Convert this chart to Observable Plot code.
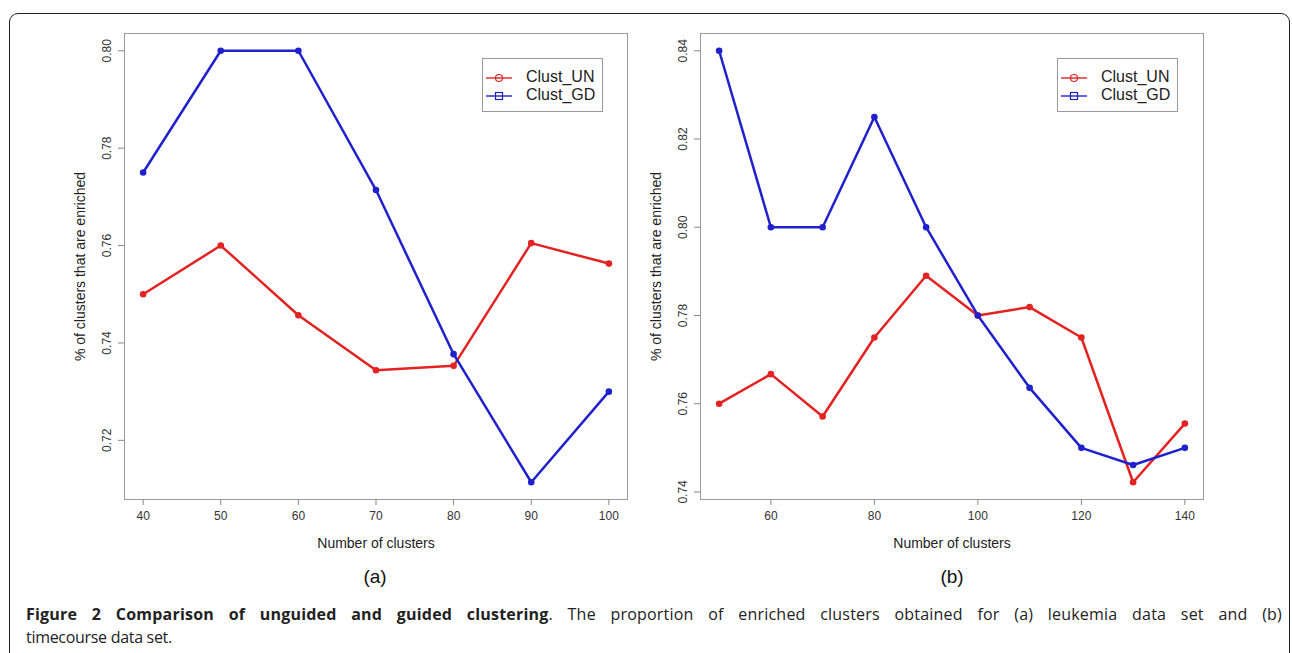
<!DOCTYPE html>
<html>
<head>
<meta charset="utf-8">
<script src="https://cdn.jsdelivr.net/npm/d3@7"></script>
<script src="https://cdn.jsdelivr.net/npm/@observablehq/plot@0.6"></script>
<style>
  html, body { margin: 0; padding: 0; background: #fff; }
  #wrap { position: relative; width: 1292px; height: 653px; overflow: hidden; background: #fff; font-family: "Liberation Sans", Arial, sans-serif; }
  #border { position: absolute; left: 9px; top: 13px; width: 1281px; height: 700px; border: 1.3px solid #222; border-radius: 9px; box-sizing: border-box; }
  .panel { position: absolute; top: 0; }
  .legend { position: absolute; border: 1px solid #999; background: #fff; box-sizing: border-box; }
  .legend .row { position: absolute; left: 0; height: 18px; }
  .legend svg { position: absolute; left: 3px; top: 0; }
  .legend span { position: absolute; left: 43px; top: -1px; font-size: 16px; color: #222; white-space: nowrap; line-height: 18px; }
  .sub { position: absolute; font-size: 19px; color: #111; transform: translateX(-50%); }
  #caption { position: absolute; left: 26px; top: 603px; width: 1256px; font-family: "Open Sans", "Noto Sans", sans-serif; font-size: 16px; color: #222; line-height: 23px; }
  #caption .l1 { text-align: justify; text-align-last: justify; letter-spacing: 0.2px; }
  #caption .l2 { letter-spacing: -0.3px; }
</style>
</head>
<body>
<div id="wrap">
  <div id="border"></div>
  <div id="left" class="panel" style="left:0px"></div>
  <div id="right" class="panel" style="left:640px"></div>
  <div class="sub" style="left:375px; top:566px;">(a)</div>
  <div class="sub" style="left:952px; top:566px;">(b)</div>
  <div id="caption">
    <div class="l1"><b>Figure 2 Comparison of unguided and guided clustering</b>. The proportion of enriched clusters obtained for (a) leukemia data set and (b)</div>
    <div class="l2">timecourse data set.</div>
  </div>
</div>
<script>
// ---- data ----
const seriesNames = ["Clust_UN", "Clust_GD"];
const seriesColors = ["#e32222", "#2020cc"];

const clustersA = [40, 50, 60, 70, 80, 90, 100];
const unA = [0.750, 0.760, 0.7457, 0.7344, 0.7353, 0.7605, 0.7563];
const gdA = [0.775, 0.800, 0.800, 0.7714, 0.7377, 0.7114, 0.730];
const xTicksA = [40, 50, 60, 70, 80, 90, 100];
const yTicksA = [0.72, 0.74, 0.76, 0.78, 0.80];

const clustersB = [50, 60, 70, 80, 90, 100, 110, 120, 130, 140];
const unB = [0.760, 0.7667, 0.7571, 0.775, 0.789, 0.780, 0.7819, 0.775, 0.7422, 0.7555];
const gdB = [0.840, 0.800, 0.800, 0.825, 0.800, 0.780, 0.7636, 0.750, 0.7461, 0.750];
const xTicksB = [60, 80, 100, 120, 140];
const yTicksB = [0.74, 0.76, 0.78, 0.80, 0.82, 0.84];

const xLabel = "Number of clusters";
const yLabel = "% of clusters that are enriched";

// R-style 4% padded domain
function pad(vals) {
  const [lo, hi] = d3.extent(vals);
  const p = (hi - lo) * 0.04;
  return [lo - p, hi + p];
}

function panel(xs, un, gd, xTicks, yTicks, ml, mr, width) {
  const rows = [];
  xs.forEach((x, i) => rows.push({s: 0, x, y: un[i]}));
  xs.forEach((x, i) => rows.push({s: 1, x, y: gd[i]}));
  const fmt = d3.format(".2f");
  return Plot.plot({
    width, height: 560,
    marginLeft: ml, marginRight: mr, marginTop: 33, marginBottom: 61,
    x: {domain: pad(xs), label: null},
    y: {domain: pad(un.concat(gd)), label: null},
    style: {fontFamily: "Liberation Sans, Arial, sans-serif", fontSize: "12px", background: "transparent", overflow: "visible"},
    marks: [
      Plot.frame({stroke: "#9a9a9a", strokeWidth: 1}),
      Plot.axisX({ticks: xTicks, tickSize: 6, tickPadding: 6, stroke: "#888", fill: "#333", fontSize: 12, tickFormat: d => String(d), label: null}),
      Plot.axisY({ticks: yTicks, tickSize: 6, stroke: "#888", tickFormat: () => "", label: null}),
      Plot.text(yTicks, {y: d => d, text: d => fmt(d), frameAnchor: "left", textAnchor: "middle", lineAnchor: "middle", rotate: -90, dx: -17, fill: "#333", fontSize: 12}),
      Plot.text([xLabel], {frameAnchor: "bottom", textAnchor: "middle", lineAnchor: "middle", dy: 44, fontSize: 14, fill: "#222"}),
      Plot.text([yLabel], {frameAnchor: "left", textAnchor: "middle", lineAnchor: "middle", rotate: -90, dx: -44, fontSize: 14, fill: "#222"}),
      Plot.line(rows, {x: "x", y: "y", z: "s", stroke: d => seriesColors[d.s], strokeWidth: 2.5}),
      Plot.dot(rows, {x: "x", y: "y", r: 3.3, fill: d => seriesColors[d.s], stroke: "none"})
    ]
  });
}

document.getElementById("left").appendChild(panel(clustersA, unA, gdA, xTicksA, yTicksA, 124, 13, 640));
document.getElementById("right").appendChild(panel(clustersB, unB, gdB, xTicksB, yTicksB, 60, 89, 652));

function legend(left, top) {
  const div = document.createElement("div");
  div.className = "legend";
  div.style.left = left + "px";
  div.style.top = top + "px";
  div.style.width = "121px";
  div.style.height = "54px";
  seriesNames.forEach((name, i) => {
    const row = document.createElement("div");
    row.className = "row";
    row.style.top = (10 + i * 17.5) + "px";
    const c = seriesColors[i];
    const sym = i === 0
      ? `<circle cx="13" cy="9" r="3.5" fill="none" stroke="${c}" stroke-width="1.2"/>`
      : `<rect x="9.5" y="5.5" width="7" height="7" fill="none" stroke="${c}" stroke-width="1.2"/>`;
    row.innerHTML = `<svg width="28" height="18"><line x1="0" x2="26" y1="9" y2="9" stroke="${c}" stroke-width="1.4"/>${sym}</svg><span>${name}</span>`;
    div.appendChild(row);
  });
  document.getElementById("wrap").appendChild(div);
}
legend(482, 58);
legend(1057, 58);
</script>
</body>
</html>
